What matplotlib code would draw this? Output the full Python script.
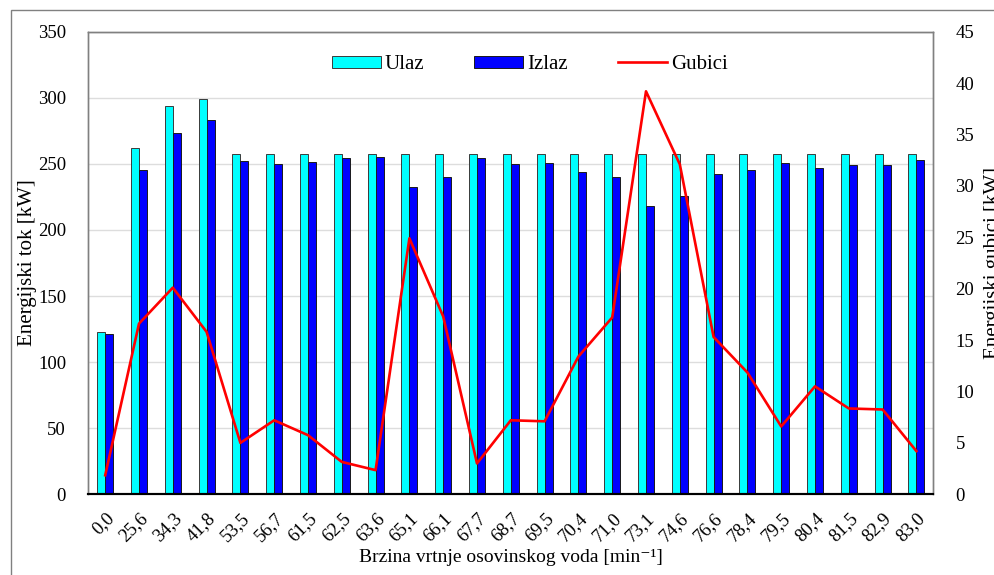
import numpy as np
import matplotlib
matplotlib.use('Agg')
import matplotlib.pyplot as plt
from matplotlib.patches import Rectangle

plt.rcParams['font.family'] = ['Liberation Serif', 'DejaVu Serif']

# brzina vrtnje osovinskog voda [min-1]
speeds = ['0,0', '25,6', '34,3', '41,8', '53,5', '56,7', '61,5', '62,5', '63,6',
          '65,1', '66,1', '67,7', '68,7', '69,5', '70,4', '71,0', '73,1', '74,6',
          '76,6', '78,4', '79,5', '80,4', '81,5', '82,9', '83,0']

# energijski tok [kW]
ulaz = [123, 262, 294, 299, 257.5, 257.5, 257.5, 257.5, 257.5,
        257.5, 257.5, 257.5, 257.5, 257.5, 257.5, 257.5, 257.5, 257.5,
        257.5, 257.5, 257.5, 257.5, 257.5, 257.5, 257.5]
izlaz = [121, 245.2, 273.7, 283.3, 252.3, 250.2, 251.5, 254.3, 255.3,
         232.6, 240.2, 254.5, 250.2, 250.5, 243.9, 240.2, 218.2, 225.5,
         242.2, 245.5, 250.8, 247, 249.2, 249.2, 253]

# energijski gubici [kW]
gubici = [1.85, 16.6, 20.1, 15.8, 5.0, 7.2, 5.75, 3.15, 2.35,
          24.9, 17.3, 3.0, 7.2, 7.1, 13.4, 17.2, 39.2, 32.1,
          15.3, 11.85, 6.6, 10.5, 8.35, 8.25, 4.2]

W, H = 994, 575
fig = plt.figure(figsize=(W / 100, H / 100), dpi=100)
fig.subplots_adjust(left=88.3 / W, right=933.3 / W, top=1 - 31.7 / H, bottom=1 - 494.3 / H)
ax = fig.add_subplot(111)

# outer chart border
fig.patches.append(Rectangle((11 / W, -0.1), 1.2, 1.1 - 10 / H, transform=fig.transFigure,
                             fill=False, edgecolor='#808080', linewidth=1.0))

x = np.arange(len(speeds))
bw = 0.237
ax.bar(x - bw, ulaz, width=bw, align='edge', color='#00ffff', edgecolor='#3a3a3a',
       linewidth=0.7, label='Ulaz', zorder=2)
ax.bar(x, izlaz, width=bw, align='edge', color='#0000ff', edgecolor='#1a1a1a',
       linewidth=0.7, label='Izlaz', zorder=2)

ax.set_xlim(-0.5, len(speeds) - 0.5)
ax.set_ylim(0, 350)
ax.set_yticks(np.arange(0, 351, 50))
ax.yaxis.grid(True, color='#dddddd', linewidth=1.0)
ax.set_axisbelow(True)
ax.set_xticks(x)
ax.set_xticklabels(speeds, rotation=45, ha='right', rotation_mode='anchor')
ax.tick_params(axis='both', length=0, labelsize=13.5)
ax.tick_params(axis='y', pad=16)
ax.tick_params(axis='x', pad=11)
ax.set_ylabel('Energijski tok [kW]', fontsize=15)
ax.yaxis.set_label_coords(-0.061, 0.5)
ax.set_xlabel('Brzina vrtnje osovinskog voda [min\u207b\u00b9]', fontsize=14, labelpad=3)

ax2 = ax.twinx()
ax2.plot(x, gubici, color='#ff0000', linewidth=1.9, label='Gubici', zorder=3)
ax2.set_ylim(0, 45)
ax2.set_yticks(np.arange(0, 46, 5))
ax2.tick_params(axis='y', length=0, labelsize=13.5, pad=16)
ax2.set_ylabel('Energijski gubici [kW]', fontsize=15)
ax2.yaxis.set_label_coords(1.06, 0.5)

for a in (ax, ax2):
    for s in ('left', 'top', 'right'):
        a.spines[s].set_color('#808080')
        a.spines[s].set_linewidth(1.0)
    a.spines['bottom'].set_color('black')
    a.spines['bottom'].set_linewidth(1.5)

h1, l1 = ax.get_legend_handles_labels()
h2, l2 = ax2.get_legend_handles_labels()
ax2.legend(h1 + h2, l1 + l2, loc='upper center', bbox_to_anchor=(0.5225, 0.99), ncol=3,
           frameon=False, fontsize=15, handlelength=2.35, handleheight=0.5,
           columnspacing=2.4, handletextpad=0.2)

fig.savefig('out.png', dpi=100)
